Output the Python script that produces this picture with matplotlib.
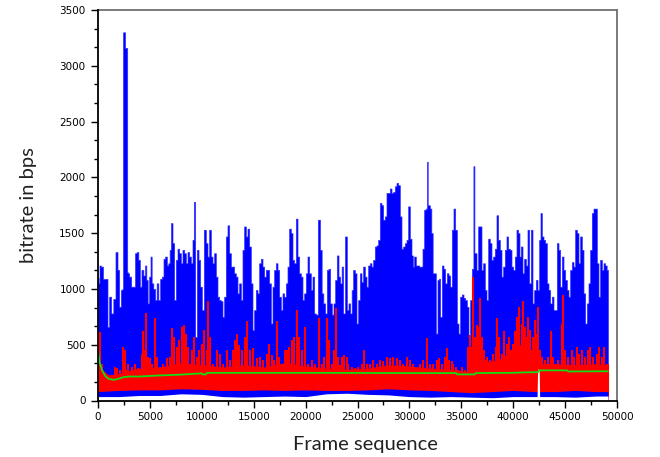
import matplotlib
matplotlib.use("Agg")
import matplotlib.pyplot as plt
from matplotlib.ticker import MultipleLocator

# ---- data (frame index, bitrate in bps) ----
blue_frames = [0, 96, 193, 353, 610, 835, 996, 1156, 1381, 1574, 1798, 1959, 2119, 2280, 2400, 2420, 2600, 2620, 2800, 2830,
               2922, 3083, 3308, 3500, 3629, 3821, 3950, 4110, 4271, 4464, 4592, 4721, 4849, 5010, 5106, 5234, 5427, 5588,
               5716, 5909, 6069, 6230, 6390, 6551, 6712, 6840, 6968, 7097, 7257, 7418, 7579, 7739, 7900, 8060, 8221, 8381,
               8542, 8703, 8863, 9024, 9184, 9281, 9441, 9602, 9762, 9923, 10083, 10308, 10469, 10629, 10790, 10951, 11111,
               11272, 11432, 11593, 11753, 11914, 12074, 12235, 12396, 12556, 12717, 12877, 13038, 13198, 13359, 13520,
               13680, 13841, 14001, 14162, 14322, 14483, 14644, 14804, 14965, 15125, 15286, 15446, 15607, 15768, 15928,
               16089, 16249, 16410, 16570, 16731, 16892, 17052, 17213, 17373, 17534, 17694, 17855, 18015, 18176, 18337,
               18497, 18658, 18818, 18979, 19139, 19300, 19460, 19621, 19782, 19942, 20103, 20263, 20424, 20584, 20745,
               20906, 21066, 21291, 21484, 21612, 21805, 21966, 22126, 22287, 22447, 22608, 22768, 22929, 23089, 23250,
               23410, 23539, 23699, 23892, 24053, 24213, 24374, 24502, 24663, 24823, 24984, 25145, 25305, 25466, 25626,
               25787, 25947, 26108, 26268, 26429, 26590, 26750, 26911, 27071, 27232, 27392, 27553, 27713, 27874, 28035,
               28195, 28356, 28516, 28677, 28837, 28998, 29158, 29319, 29479, 29640, 29801, 29961, 30122, 30282, 30379,
               30539, 30700, 30860, 31021, 31182, 31342, 31503, 31663, 31740, 31790, 31888, 32049, 32177, 32306, 32466,
               32627, 32787, 32884, 33044, 33205, 33365, 33526, 33687, 33847, 34008, 34168, 34329, 34489, 34650, 34810,
               34971, 35132, 35292, 35453, 35613, 35774, 35934, 36095, 36240, 36290, 36384, 36544, 36705, 36865, 37026,
               37187, 37347, 37508, 37668, 37829, 37989, 38150, 38311, 38471, 38632, 38792, 38953, 39113, 39274, 39434,
               39595, 39756, 39916, 40077, 40237, 40398, 40558, 40655, 40816, 40976, 41137, 41297, 41458, 41619, 41779,
               41940, 42100, 42261, 42421, 42582, 42678, 42839, 42999, 43160, 43320, 43481, 43642, 43802, 43963, 44123,
               44284, 44444, 44605, 44766, 44926, 45087, 45247, 45408, 45568, 45729, 45889, 46050, 46211, 46371, 46532,
               46692, 46853, 47013, 47174, 47335, 47495, 47656, 47816, 47977, 48137, 48298, 48458, 48619, 48779, 48940,
               49068, 49130]
blue_top = [1100, 1050, 1210, 1200, 1090, 1090, 660, 930, 780, 910, 1330, 1170, 840, 990, 1000, 3300, 3300, 3160, 3160, 1150,
            1140, 1110, 1020, 1020, 1320, 1330, 1260, 1020, 1170, 1120, 1210, 1080, 870, 1110, 1290, 1050, 1000, 900,
            1050, 900, 1090, 1110, 1270, 1290, 1210, 1230, 1350, 1590, 1410, 900, 1260, 1360, 1320, 1230, 1350, 1320,
            1230, 1330, 1290, 1230, 1440, 1780, 570, 1350, 1260, 1020, 810, 1530, 1410, 1290, 1530, 1290, 1230,
            1320, 1110, 930, 900, 890, 750, 930, 1470, 1570, 1320, 1200, 1200, 1140, 1110, 960,
            1050, 900, 1350, 1560, 1470, 1540, 1380, 1050, 630, 810, 990, 960, 1230, 1270, 1200,
            1110, 1170, 1170, 1050, 690, 1020, 1170, 1230, 1170, 930, 810, 960, 930, 1050, 1200,
            1540, 1500, 1260, 1230, 1630, 1290, 1140, 1110, 900, 960, 1140, 1290, 1140, 990, 1110,
            780, 770, 1620, 1350, 960, 870, 780, 1170, 1180, 870, 770, 870, 1080, 1300, 1110,
            1050, 1200, 780, 1470, 810, 870, 780, 990, 1170, 1140, 690, 900, 1140, 1060, 1200,
            1110, 1020, 1210, 1230, 1200, 1260, 1380, 1390, 1440, 1770, 1750, 1620, 1650, 1860, 1860,
            1900, 1860, 1870, 1920, 1950, 1930, 1650, 1360, 1380, 1410, 1440, 1740, 1450, 1300, 1200,
            1290, 1210, 1210, 1200, 1200, 1360, 1710, 1720, 2140, 1750, 1750, 1720, 1500, 1140, 1140,
            600, 1080, 1090, 750, 1210, 1180, 1050, 1140, 1120, 1020, 1530, 1720, 1530, 690, 600,
            930, 950, 920, 900, 840, 570, 900, 1180, 2100, 1320, 1320, 1170, 1560, 1560, 1170,
            1230, 990, 900, 1450, 1410, 1260, 1290, 1360, 1660, 1440, 1350, 1110, 1200, 1350, 1470,
            1360, 1350, 1200, 1170, 1290, 1530, 1500, 1290, 1380, 1140, 1270, 1210, 1530, 1050, 1530,
            870, 990, 1080, 990, 1440, 1680, 1470, 1440, 1410, 1050, 990, 870, 930, 810, 810,
            1410, 1350, 1020, 1290, 1170, 1080, 990, 930, 1170, 1240, 1200, 1530, 1500, 1230, 1470,
            1350, 960, 690, 870, 1050, 1350, 1680, 1720, 1720, 1230, 930, 1260, 1170, 1230, 1210,
            1170, 1170]

low_frames = [0, 2000, 4000, 6000, 8000, 10000, 12000, 14000, 16000, 18000, 20000, 22000, 24000, 26000,
              28000, 30000, 32000, 34000, 36000, 38000, 40000, 42000, 42300, 42350, 42500, 42550, 44000,
              46000, 48000, 49130]
blue_low = [35, 35, 45, 45, 60, 55, 35, 30, 35, 40, 35, 60, 65, 55,
            50, 35, 30, 35, 30, 25, 35, 35, 35, 280, 280, 35, 35,
            30, 40, 40]
red_low = [80, 90, 95, 95, 105, 100, 90, 90, 95, 90, 95, 90, 90, 95,
           105, 95, 90, 80, 70, 80, 90, 80, 80, 80, 80, 80, 80,
           90, 80, 80]

body_frames = [0, 500, 1000, 2000, 3000, 4000, 6000, 8000, 10000, 12000, 14000, 16000, 18000, 20000, 22000,
               24000, 26000, 28000, 30000, 32000, 34000, 35500, 36500, 37500, 38500, 39500, 40500, 41500,
               42500, 44000, 46000, 48000, 49130]
red_body = [330, 270, 230, 240, 270, 290, 300, 340, 320, 300, 320, 300, 340, 310, 290,
            280, 290, 320, 310, 290, 280, 260, 420, 350, 360, 420, 500, 480,
            330, 330, 320, 330, 320]

red_frames = [0, 193, 353, 674, 996, 1317, 1638, 1798, 2119, 2440, 2601, 2762, 2922, 3243, 3565, 3821, 4207, 4367,
              4528, 4624, 4785, 5010, 5234, 5491, 5652, 5973, 6294, 6615, 6936, 7161, 7354, 7579, 7803, 8060, 8285,
              8478, 8703, 9024, 9281, 9505, 9730, 9987, 10180, 10469, 10629, 10790, 11111, 11432, 11753, 12074,
              12396, 12717, 13038, 13198, 13423, 13616, 13841, 14162, 14387, 14644, 14965, 15286, 15607, 15928,
              16249, 16474, 16731, 16956, 17213, 17470, 17694, 18015, 18240, 18433, 18658, 18883, 19139, 19396,
              19621, 19942, 20263, 20584, 20906, 21291, 21548, 21805, 22030, 22255, 22511, 22768, 22929, 23154,
              23314, 23539, 23731, 23956, 24117, 24438, 24759, 25080, 25401, 25658, 25883, 26204, 26526, 26847,
              27168, 27489, 27810, 28131, 28452, 28773, 29094, 29415, 29737, 30058, 30379, 30700, 31021, 31342,
              31728, 31985, 32306, 32627, 32884, 33108, 33430, 33654, 33847, 34072, 34232, 34489, 34714, 35035,
              35356, 35677, 35838, 35998, 36159, 36320, 36480, 36641, 36801, 36962, 37187, 37444, 37765, 38086,
              38311, 38471, 38664, 38889, 39113, 39370, 39595, 39788, 40013, 40206, 40398, 40558, 40655, 40816,
              40976, 41137, 41297, 41458, 41619, 41779, 41940, 42100, 42261, 42421, 42582, 42807, 43063, 43385,
              43642, 43867, 44091, 44348, 44669, 44830, 45008, 45312, 45633, 45889, 46114, 46339, 46596, 46917,
              47238, 47431, 47720, 48041, 48266, 48523, 48779, 49036, 49130]
red_top = [620, 610, 330, 240, 210, 180, 300, 290, 270, 480, 450, 270, 330, 300, 330, 290, 420, 620,
           450, 780, 390, 380, 330, 740, 390, 300, 330, 380, 390, 650, 570, 480, 540, 660, 680,
           600, 480, 450, 570, 390, 450, 510, 630, 450, 890, 570, 330, 450, 420, 330,
           450, 360, 450, 540, 600, 500, 450, 570, 710, 450, 470, 380, 390, 360,
           420, 510, 410, 360, 710, 390, 330, 450, 450, 480, 540, 570, 810, 570,
           450, 660, 330, 360, 330, 740, 330, 390, 740, 540, 330, 450, 830, 390,
           320, 390, 410, 390, 330, 300, 290, 300, 330, 450, 330, 330, 360, 330,
           360, 350, 390, 380, 390, 380, 360, 330, 390, 360, 330, 270, 330, 360,
           560, 330, 330, 360, 380, 330, 390, 470, 360, 350, 330, 300, 270, 300,
           270, 480, 590, 480, 1110, 570, 680, 660, 920, 570, 450, 390, 360, 420,
           480, 740, 570, 420, 620, 510, 570, 450, 510, 620, 750, 840, 450, 690,
           890, 660, 570, 750, 630, 450, 570, 720, 600, 840, 450, 390, 360, 390,
           620, 390, 330, 360, 690, 950, 450, 390, 450, 390, 480, 420, 450, 390,
           450, 480, 390, 420, 480, 390, 480, 330, 330]

green_frames = [0, 150, 400, 700, 1000, 1500, 2000, 2500, 3000, 4000, 5000, 6000, 7000, 8000, 9000, 10000,
                10100, 10400, 10500, 15000, 20000, 25000, 30000, 34500, 34600, 36300, 36400, 40000, 41000,
                42400, 42500, 45200, 45300, 49100]
green_vals = [460, 340, 270, 220, 195, 185, 195, 210, 215, 215, 220, 225, 228, 232, 238, 243,
              234, 234, 248, 248, 248, 247, 246, 246, 234, 234, 246, 248, 252,
              254, 270, 270, 260, 262]

fig = plt.figure(figsize=(6.6, 4.57), dpi=100)
ax = fig.add_axes([98 / 660, 1 - 400.5 / 457, 519 / 660, 390.5 / 457])

ax.fill_between(blue_frames, 0, blue_top, step="mid", color="#0000ff", lw=0.5, edgecolor="#3030ff", zorder=2)
ax.fill_between(body_frames, 0, red_body, color="#ff0000", lw=0, zorder=3)
ax.vlines(red_frames, 0, red_top, color="#ff0000", lw=1.5, zorder=3)
ax.fill_between(low_frames, 0, red_low, color="#0000ff", lw=0, zorder=4)
ax.fill_between(low_frames, 0, blue_low, color="white", lw=0, zorder=5)
ax.plot(green_frames, green_vals, color="#11dd11", lw=1.3, zorder=6)

ax.set_xlim(0, 50000)
ax.set_ylim(0, 3500)
ax.xaxis.set_major_locator(MultipleLocator(5000))
ax.xaxis.set_minor_locator(MultipleLocator(2500))
ax.yaxis.set_major_locator(MultipleLocator(500))
ax.yaxis.set_minor_locator(MultipleLocator(500 / 3))

for side in ("left", "bottom"):
    ax.spines[side].set_color("black")
    ax.spines[side].set_linewidth(1.3)
for side in ("top", "right"):
    ax.spines[side].set_color("#707070")
    ax.spines[side].set_linewidth(1.3)
ax.spines["left"].set_zorder(10)
ax.spines["bottom"].set_zorder(10)

ax.tick_params(axis="both", which="major", direction="out", length=5, width=1, labelsize=7.5, pad=3)
ax.tick_params(axis="both", which="minor", direction="out", length=3, width=1)
ax.tick_params(axis="y", which="major", pad=4)
for lab in ax.get_xticklabels() + ax.get_yticklabels():
    lab.set_family("DejaVu Sans")

ax.set_xlabel("Frame sequence", family="Lato", fontsize=14.5, color="#222222")
ax.xaxis.set_label_coords(0.515, -0.092)
ax.set_ylabel("bitrate in bps", family="Lato", fontsize=14.5, color="#222222", labelpad=16)

fig.savefig("out.png", dpi=100)
